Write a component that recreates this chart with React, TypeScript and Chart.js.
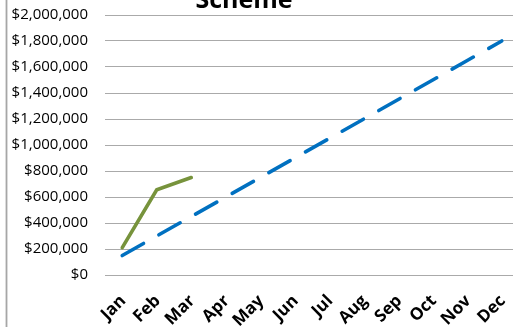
import React, { useEffect, useRef } from "react";
import { Chart, registerables } from "chart.js";

Chart.register(...registerables);

const months = ["Jan", "Feb", "Mar", "Apr", "May", "Jun", "Jul", "Aug", "Sep", "Oct", "Nov", "Dec"];
const plannedSpend = [150000, 300000, 450000, 600000, 750000, 900000, 1050000, 1200000, 1350000, 1500000, 1650000, 1800000];
const actualSpend = [210000, 655000, 750000];
const axisMin = 0;
const axisMax = 2000000;
const axisStep = 200000;
const chartTitle = "Scheme";

const FONT = '"Open Sans", "Noto Sans", sans-serif';

const frameAndTitle = {
  id: "frameAndTitle",
  afterDraw(chart: any) {
    const ctx = chart.ctx;
    ctx.save();
    // outer chart frame (left edge)
    ctx.fillStyle = "#a6a6a6";
    ctx.fillRect(5.6, 0, 1.8, chart.height);
    // title
    ctx.fillStyle = "#000";
    ctx.font = `bold 25px ${FONT}`;
    ctx.textAlign = "center";
    ctx.textBaseline = "alphabetic";
    ctx.fillText(chartTitle, 244, 8);
    ctx.restore();
  },
};

export default function App() {
  const ref = useRef<HTMLCanvasElement | null>(null);

  useEffect(() => {
    document.body.style.margin = "0";
    document.body.style.overflow = "hidden";
    const chart = new Chart(ref.current as HTMLCanvasElement, {
      type: "line",
      data: {
        labels: months,
        datasets: [
          {
            label: "Plan",
            data: plannedSpend,
            borderColor: "#0070C0",
            borderWidth: 3.6,
            borderDash: [24.4, 17.7],
            borderCapStyle: "round",
            pointRadius: 0,
            fill: false,
            tension: 0,
          },
          {
            label: "Actual",
            data: actualSpend,
            borderColor: "#77933C",
            borderWidth: 3.6,
            borderCapStyle: "round",
            pointRadius: 0,
            fill: false,
            tension: 0,
          },
        ],
      },
      plugins: [frameAndTitle],
      options: {
        animation: false,
        responsive: false,
        devicePixelRatio: 1,
        layout: { padding: { top: 15, right: 1, bottom: 0, left: 0 } },
        plugins: {
          legend: { display: false },
          title: { display: false },
          tooltip: { enabled: false },
        },
        scales: {
          x: {
            offset: true,
            grid: { display: false, drawTicks: false },
            border: { display: false },
            ticks: {
              autoSkip: false,
              minRotation: 45,
              maxRotation: 45,
              padding: 16,
              labelOffset: 1,
              color: "#000",
              font: { family: FONT, size: 17, weight: "bold" },
            },
            afterFit: (scale: any) => {
              scale.height = 52;
              scale.paddingLeft = 0;
              scale.paddingRight = 0;
            },
          },
          y: {
            min: axisMin,
            max: axisMax,
            grid: { color: "#aaaaaa", lineWidth: 1, drawTicks: false },
            border: { display: false },
            ticks: {
              stepSize: axisStep,
              padding: 17,
              color: "#000",
              font: { family: FONT, size: 15 },
              callback: (v: any) => "$" + Number(v).toLocaleString("en-US"),
            },
            afterFit: (scale: any) => {
              scale.width = 105;
              scale.paddingTop = 0;
              scale.paddingBottom = 0;
            },
          },
        },
      },
    });
    return () => chart.destroy();
  }, []);

  return (
    <div style={{ position: "fixed", left: 0, top: 0, width: 520, height: 327, background: "#fff" }}>
      <canvas ref={ref} width={520} height={327} />
    </div>
  );
}
